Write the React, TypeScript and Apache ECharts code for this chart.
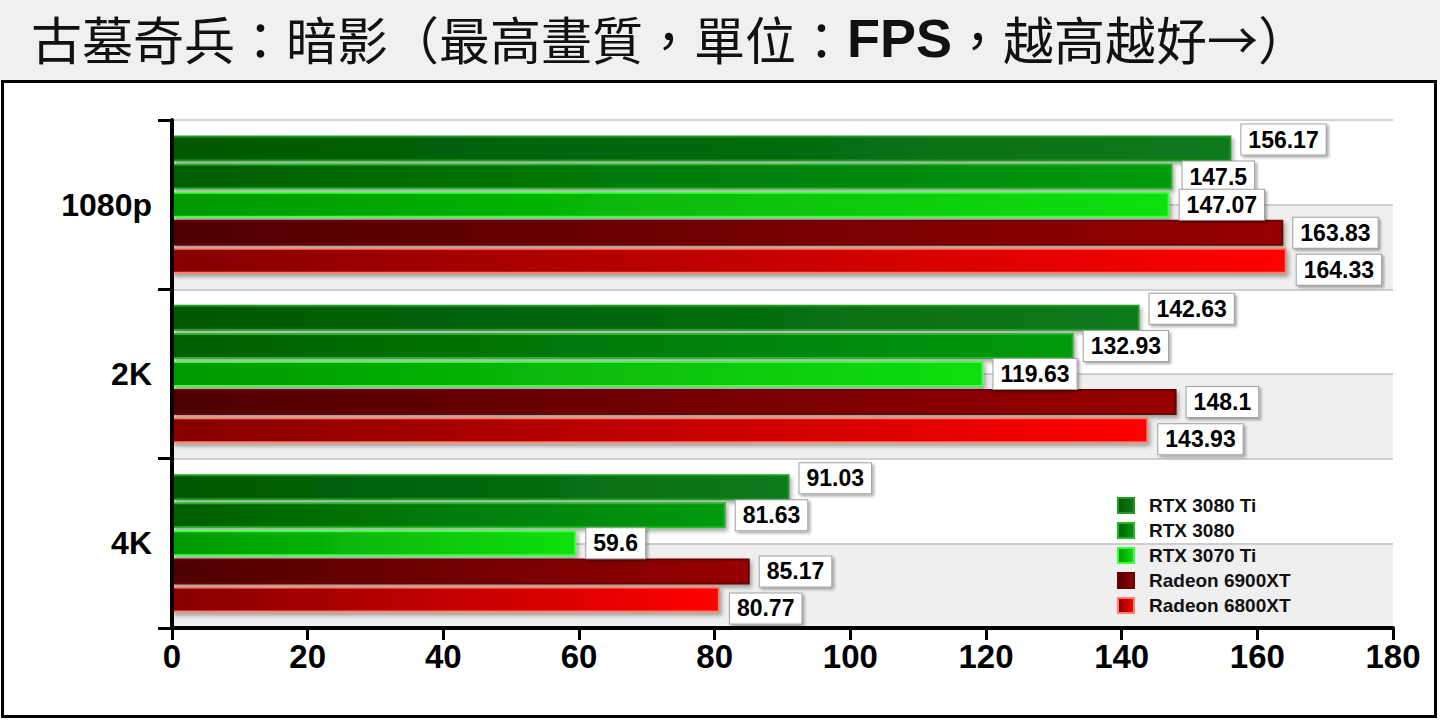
import React, { useEffect, useRef } from "react";
import * as echarts from "echarts";

const categories = ["1080p", "2K", "4K"];
const seriesNames = ["RTX 3080 Ti", "RTX 3080", "RTX 3070 Ti", "Radeon 6900XT", "Radeon 6800XT"];
const rtx3080ti = [156.17, 142.63, 91.03];
const rtx3080 = [147.5, 132.93, 81.63];
const rtx3070ti = [147.07, 119.63, 59.6];
const rx6900xt = [163.83, 148.1, 85.17];
const rx6800xt = [164.33, 143.93, 80.77];
const xTicks = { min: 0, max: 180, interval: 20 };

const FONT = "'Liberation Sans', Arial, sans-serif";

const styles = [
  { from: "#005800", to: "#0a7a1c", border: "#1f9a22", labelOffset: [0, -9] },
  { from: "#005e00", to: "#009a10", border: "#22b826", labelOffset: [0, 0] },
  { from: "#009800", to: "#10e010", border: "#40ff40", labelOffset: [0, 0] },
  { from: "#4e0000", to: "#980000", border: "#6a0000", labelOffset: [0, 0] },
  { from: "#850000", to: "#ff0000", border: "#ff8066", labelOffset: [0, 9] },
];

const seriesData = [rtx3080ti, rtx3080, rtx3070ti, rx6900xt, rx6800xt];

export default function App() {
  const ref = useRef<HTMLDivElement>(null);
  useEffect(() => {
    if (!ref.current) return;
    const chart = echarts.init(ref.current, null, { renderer: "svg" });
    const series: any[] = seriesNames.map((name, i) => ({
      name,
      type: "bar",
      xAxisIndex: 0,
      yAxisIndex: 0,
      data: seriesData[i],
      barWidth: 26,
      barGap: "8%",
      itemStyle: {
        color: new echarts.graphic.LinearGradient(0, 0, 1, 0, [
          { offset: 0, color: styles[i].from },
          { offset: 1, color: styles[i].to },
        ]),
        borderColor: styles[i].border,
        borderWidth: 2,
        shadowColor: "rgba(0,0,0,0.35)",
        shadowBlur: 4,
        shadowOffsetX: 2,
        shadowOffsetY: 3,
      },
      label: {
        show: true,
        position: "right",
        distance: 10,
        offset: styles[i].labelOffset,
        formatter: (p: any) => String(p.value),
        color: "#000",
        fontFamily: FONT,
        fontWeight: "bold",
        fontSize: 23,
        backgroundColor: "#ffffff",
        borderColor: "#a0a0a0",
        borderWidth: 1,
        padding: [4, 7, 3, 7],
        shadowColor: "rgba(0,0,0,0.35)",
        shadowBlur: 3,
        shadowOffsetX: 2,
        shadowOffsetY: 2,
      },
      z: 3,
    }));

    chart.setOption({
      animation: false,
      backgroundColor: "#ffffff",
      title: {
        left: 26,
        top: 6,
        text: "{a|古墓奇兵：暗影（最高畫質，單位：}{b|FPS}{a|，越高越好→）}",
        textStyle: {
          rich: {
            a: { fontFamily: "'Noto Sans CJK TC', sans-serif", fontSize: 51, color: "#111", fontWeight: "normal" },
            b: { fontFamily: FONT, fontSize: 54, color: "#111", fontWeight: "bold" },
          },
        },
      },
      graphic: [
        { type: "rect", z: -10, shape: { x: 0, y: 0, width: 1440, height: 80 }, style: { fill: "#f0f0f0" } },
        { type: "rect", z: -10, shape: { x: 2.5, y: 81.5, width: 1433, height: 635 }, style: { fill: "none", stroke: "#000", lineWidth: 3 } },
      ],
      legend: {
        orient: "vertical",
        left: 1117,
        top: 496,
        padding: 0,
        itemWidth: 16,
        itemHeight: 15,
        itemGap: 6,
        icon: "rect",
        data: seriesNames,
        selectedMode: false,
        textStyle: { fontFamily: FONT, fontWeight: "bold", fontSize: 19, color: "#111", padding: [0, 0, 0, 10] },
      },
      grid: { left: 172, right: 47, top: 120, bottom: 92 },
      xAxis: {
        type: "value",
        min: xTicks.min,
        max: xTicks.max,
        interval: xTicks.interval,
        axisLine: { show: true, onZero: false, lineStyle: { color: "#000", width: 4 } },
        axisTick: { show: true, length: 12, lineStyle: { color: "#000", width: 3 } },
        axisLabel: { margin: 12, color: "#000", fontFamily: FONT, fontWeight: "bold", fontSize: 33 },
        splitLine: { show: false },
      },
      yAxis: [
        {
          type: "category",
          data: categories,
          inverse: true,
          axisLine: { show: true, lineStyle: { color: "#000", width: 4 } },
          axisTick: { show: true, length: 14, lineStyle: { color: "#000", width: 3 } },
          axisLabel: { margin: 20, color: "#000", fontFamily: FONT, fontWeight: "bold", fontSize: 32 },
          splitLine: { show: false },
          z: 5,
        },
        {
          type: "value",
          min: 0,
          max: 6,
          interval: 1,
          position: "right",
          axisLine: { show: false },
          axisTick: { show: false },
          axisLabel: { show: false },
          splitLine: { show: true, lineStyle: { color: "#c0c0c0", width: 1.5 } },
          splitArea: { show: true, areaStyle: { color: ["#efefef", "#ffffff"] } },
          z: 0,
        },
      ],
      series,
    });
    return () => chart.dispose();
  }, []);
  return <div ref={ref} style={{ position: "absolute", left: 0, top: 0, width: 1440, height: 720 }} />;
}
